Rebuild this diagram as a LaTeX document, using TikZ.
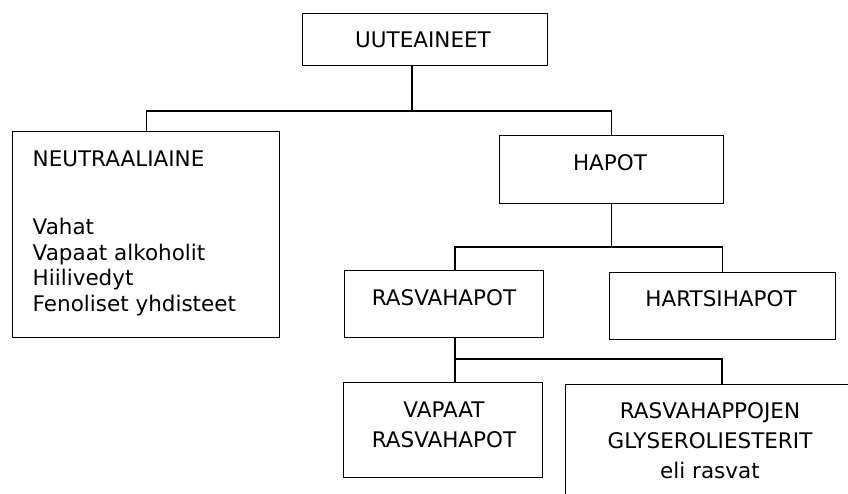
\documentclass[tikz,border=0pt]{standalone}
\usepackage{fontspec}
\setmainfont{DejaVu Sans}
\begin{document}
\begin{tikzpicture}[x=1pt,y=-1pt,line width=1.4pt,
  box/.style={draw, rectangle, inner sep=0pt, anchor=north west},
  lbl/.style={inner sep=0pt, font=\fontsize{21.5}{25.5}\selectfont},
  lbltwo/.style={inner sep=0pt, align=center, anchor=north, font=\fontsize{21.5}{30}\selectfont}]
\useasboundingbox (0,0) rectangle (848,493);
\clip (0,0) rectangle (848,493);
% boxes
\node[box, minimum width=245, minimum height=52]  (top)    at (302,13)  {};
\node[box, minimum width=267, minimum height=206] (neutral) at (12,131) {};
\node[box, minimum width=224, minimum height=68]  (hapot)  at (499,135) {};
\node[box, minimum width=199, minimum height=67]  (rasva)  at (344,270) {};
\node[box, minimum width=226, minimum height=67]  (hartsi) at (609,272) {};
\node[box, minimum width=199, minimum height=95]  (vapaat) at (343,382) {};
\node[box, minimum width=330, minimum height=150] (glyc)   at (565,384) {};
% texts
\node[lbl, anchor=base] (topt) at (423,47) {UUTEAINEET};
\node[lbl, anchor=north west, align=left] (neutralt) at (32,150.3)
  {NEUTRAALIAINE\\[42.5pt]Vahat\\Vapaat alkoholit\\Hiilivedyt\\Fenoliset yhdisteet};
\node[lbl, anchor=base] (hapott) at (610,170) {HAPOT};
\node[lbl, anchor=base] (rasvat) at (444,305) {RASVAHAPOT};
\node[lbl, anchor=base] (hartsit) at (721,306) {HARTSIHAPOT};
\node[lbltwo] (vapaatt) at (444,401.3) {VAPAAT\\RASVAHAPOT};
\node[lbltwo] (glyct) at (710,402.3) {RASVAHAPPOJEN\\GLYSEROLIESTERIT\\eli rasvat};
% connectors
\coordinate (j1) at (412,111);
\draw (top.south -| j1) -- (j1);
\draw (neutral.north) |- (j1) -| (hapot.north);
\coordinate (r1) at (455,247);
\coordinate (j2) at (hapot.south |- r1);
\draw (hapot.south) -- (j2);
\draw (rasva.north -| r1) -- (r1) -- (j2) -| (hartsi.north);
\coordinate (r2) at (455,359);
\coordinate (g1) at (722,359);
\draw (rasva.south -| r2) -- (vapaat.north -| r2);
\draw (r2) -- (g1) -- (glyc.north -| g1);
\end{tikzpicture}
\end{document}
